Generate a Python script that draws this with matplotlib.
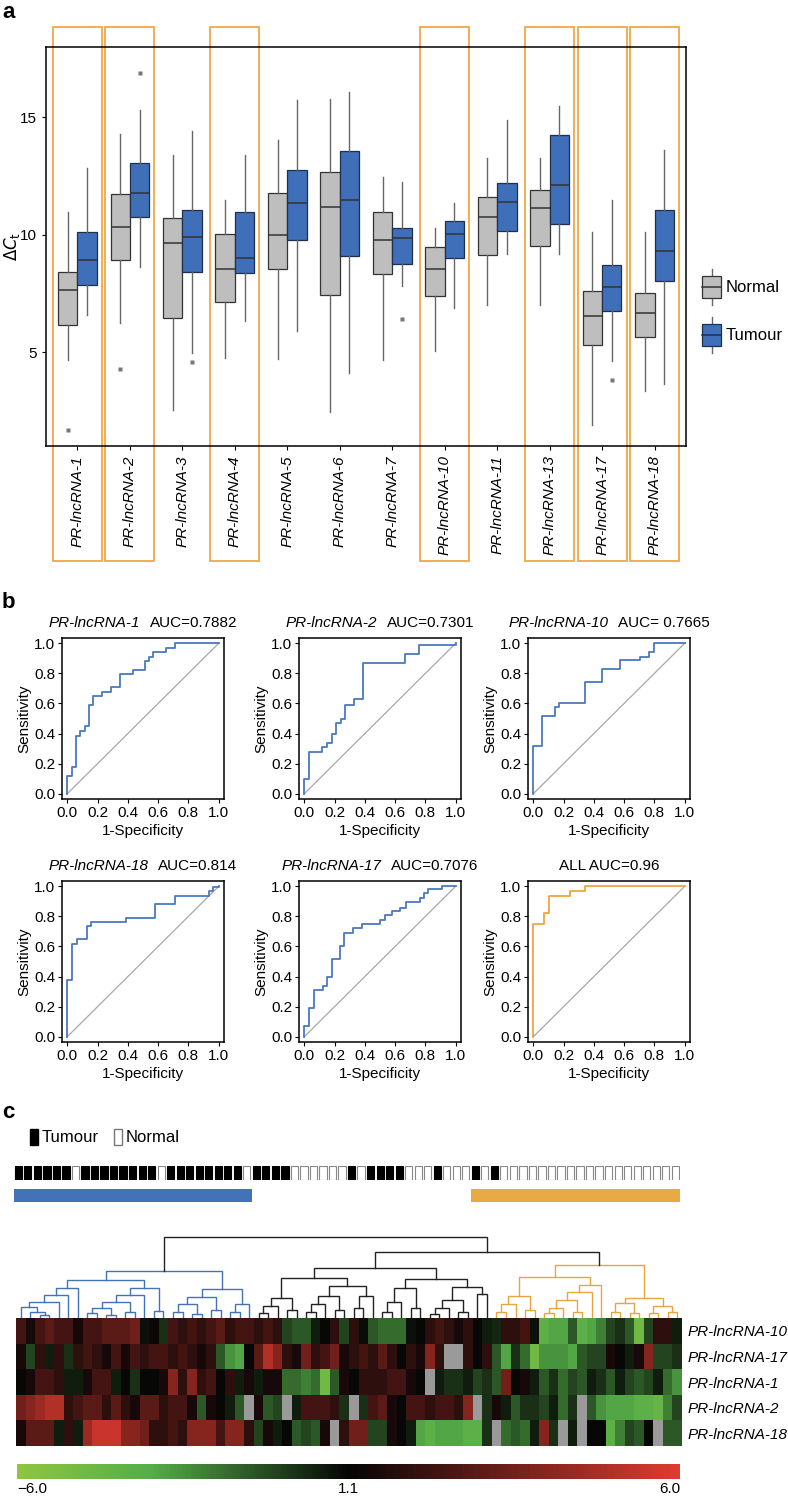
import numpy as np
import matplotlib
matplotlib.use('Agg')
import matplotlib.pyplot as plt
import matplotlib.transforms as mtransforms
from matplotlib.patches import Rectangle
from matplotlib.lines import Line2D
from matplotlib.legend_handler import HandlerBase
from matplotlib.colors import LinearSegmentedColormap, TwoSlopeNorm

plt.rcParams['font.family'] = ['Liberation Sans', 'DejaVu Sans']

# ---------------- panel a data ----------------
genes = ['PR-lncRNA-1', 'PR-lncRNA-2', 'PR-lncRNA-3', 'PR-lncRNA-4', 'PR-lncRNA-5', 'PR-lncRNA-6',
         'PR-lncRNA-7', 'PR-lncRNA-10', 'PR-lncRNA-11', 'PR-lncRNA-13', 'PR-lncRNA-17', 'PR-lncRNA-18']
highlighted = ['PR-lncRNA-1', 'PR-lncRNA-2', 'PR-lncRNA-4', 'PR-lncRNA-10', 'PR-lncRNA-13',
               'PR-lncRNA-17', 'PR-lncRNA-18']

normal_lo = [4.68, 6.26, 2.55, 4.77, 4.71, 2.43, 4.68, 5.06, 7.0, 7.0, 1.91, 3.36]
normal_q1 = [6.17, 8.92, 6.47, 7.13, 8.53, 7.44, 8.32, 7.40, 9.15, 9.53, 5.32, 5.66]
normal_med = [7.66, 10.34, 9.66, 8.53, 9.97, 11.17, 9.79, 8.53, 10.77, 11.15, 6.55, 6.68]
normal_q3 = [8.43, 11.74, 10.72, 10.03, 11.76, 12.67, 10.98, 9.49, 11.62, 11.91, 7.62, 7.53]
normal_hi = [10.98, 14.3, 13.4, 11.47, 14.03, 15.77, 12.45, 10.3, 13.28, 13.28, 10.13, 10.13]
normal_out = [[1.7], [4.3], [], [], [], [], [], [], [], [], [], []]

tumour_lo = [6.6, 8.64, 4.98, 6.34, 5.88, 4.13, 7.8, 6.9, 9.19, 9.19, 4.64, 3.66]
tumour_q1 = [7.87, 10.77, 8.4, 8.37, 9.77, 9.08, 8.77, 9.02, 10.17, 10.47, 6.77, 8.04]
tumour_med = [8.92, 11.77, 9.89, 9.0, 11.36, 11.47, 9.87, 10.04, 11.4, 12.13, 7.79, 9.32]
tumour_q3 = [10.13, 13.06, 11.06, 10.96, 12.74, 13.56, 10.3, 10.6, 12.2, 14.26, 8.72, 11.06]
tumour_hi = [12.85, 15.3, 14.4, 13.4, 15.73, 16.1, 12.26, 11.36, 14.89, 15.49, 11.47, 13.62]
tumour_out = [[], [16.9], [4.6], [], [], [], [6.43], [], [], [], [3.83], []]

# ---------------- panel b data ----------------
roc_titles = ['PR-lncRNA-1', 'PR-lncRNA-2', 'PR-lncRNA-10', 'PR-lncRNA-18', 'PR-lncRNA-17', 'ALL']
roc_auc = ['AUC=0.7882', 'AUC=0.7301', 'AUC= 0.7665', 'AUC=0.814', 'AUC=0.7076', 'AUC=0.96']
roc1_fpr = [0, 0, 0.029, 0.057, 0.081, 0.115, 0.143, 0.17, 0.227, 0.286, 0.346, 0.432, 0.513, 0.54,
            0.568, 0.654, 0.711, 1.0]
roc1_tpr = [0, 0.119, 0.178, 0.383, 0.414, 0.447, 0.593, 0.65, 0.678, 0.707, 0.795, 0.824, 0.883,
            0.912, 0.943, 0.971, 1.0, 1.0]
roc2_fpr = [0, 0, 0.033, 0.12, 0.15, 0.18, 0.21, 0.24, 0.27, 0.33, 0.385, 0.667, 0.755, 1.0]
roc2_tpr = [0, 0.095, 0.28, 0.31, 0.34, 0.40, 0.47, 0.50, 0.59, 0.63, 0.87, 0.93, 0.99, 1.0]
roc3_fpr = [0, 0, 0.059, 0.143, 0.171, 0.34, 0.455, 0.571, 0.708, 0.765, 0.796, 1.0]
roc3_tpr = [0, 0.316, 0.514, 0.574, 0.60, 0.743, 0.826, 0.886, 0.912, 0.943, 1.0, 1.0]
roc4_fpr = [0, 0, 0.033, 0.066, 0.13, 0.159, 0.39, 0.581, 0.709, 0.936, 0.965, 1.0]
roc4_tpr = [0, 0.38, 0.617, 0.648, 0.733, 0.762, 0.791, 0.879, 0.938, 0.969, 0.998, 1.0]
roc5_fpr = [0, 0, 0.029, 0.062, 0.121, 0.15, 0.18, 0.236, 0.264, 0.322, 0.379, 0.498, 0.533, 0.58,
            0.63, 0.67, 0.765, 0.79, 0.82, 0.91, 1.0]
roc5_tpr = [0, 0.073, 0.189, 0.308, 0.339, 0.396, 0.515, 0.604, 0.689, 0.72, 0.749, 0.778, 0.806,
            0.835, 0.857, 0.894, 0.925, 0.954, 0.985, 1.0, 1.0]
roc6_fpr = [0, 0, 0.07, 0.104, 0.24, 0.341, 1.0]
roc6_tpr = [0, 0.751, 0.824, 0.932, 0.967, 1.0, 1.0]
roc_fpr = [roc1_fpr, roc2_fpr, roc3_fpr, roc4_fpr, roc5_fpr, roc6_fpr]
roc_tpr = [roc1_tpr, roc2_tpr, roc3_tpr, roc4_tpr, roc5_tpr, roc6_tpr]

# ---------------- panel c data ----------------
# 1 = tumour, 0 = normal, in dendrogram order
sample_type = [1, 1, 1, 1, 1, 1, 0, 1, 1, 1, 1, 1, 1, 1, 1, 0, 1, 1, 1, 1, 1, 1, 1, 1, 0,
               1, 1, 1, 1, 0, 0, 0, 0, 0, 0, 1, 0, 1, 1, 1, 1, 0, 0, 0, 1, 0, 0, 0, 1, 0,
               1, 0, 0, 0, 0, 0, 0, 0, 0, 0, 0, 0, 0, 0, 0, 0, 0, 0, 0, 0]
blue_group = (0, 25)
orange_group = (48, 70)
heat_rows = ['PR-lncRNA-10', 'PR-lncRNA-17', 'PR-lncRNA-1', 'PR-lncRNA-2', 'PR-lncRNA-18']
nan = np.nan
row_10 = [2.5, 1.5, 2.5, 3, 2.5, 2.5, 1.5, 2.5, 2.5, 3, 3, 3, 3.5, 0.8, 1.3, 0, 2.5, 2, 2.5, 2,
          2.5, 3, 2, 2.5, 2.5, 2, 2.5, 2, -0.5, -1, -1, 0.5, 1, 2, -0.5, 2, 0.9, -1, -1.5, -1.5,
          -1.5, 0.8, 1, 2, 2.5, 2, 1.5, 2, 1, 0.5, 0.3, 2, 2, 2.5, 0.8, -3.5, -3, -3, -1, -3.5,
          -3, -2, -0.5, 0, -1, -4.5, -0.5, 2, 2, 0.5]
row_17 = [1.5, -0.5, 2, 0.5, 2, 0, 2, 2.5, 2, 1.5, 2.5, 1.5, 2.5, 2, 2.5, 2.5, 2, 2.5, 2, 1.5,
          2, -1, -2.5, -3, 1, 3, 5, 4, 2, 1.5, 3.5, 2, 2.5, 3.5, 1.5, 2, 2.5, 2, 3, 2, 1, 2, 1.5,
          4, 2, nan, nan, 2, 1, 2, -1, -3, 0, -1.5, -4.5, -2.5, -2.5, -2.5, -3, -1, -0.5, -0.5,
          1.5, 1, 0.5, 1.5, 4, -0.5, -0.5, 0]
row_1 = [1, 1.5, 2.5, 2.5, 2, 0.5, 0.5, 1.5, 2.5, 2.5, 0.5, 1, 0, 1, 1, 1.5, 4, 2, 4, 2, 2.5, 1,
         2, 0.5, 1.5, 0.5, 1.5, 1.5, -1.5, -1.5, -2, -1.5, -4.5, -1, 1.5, 1, 2, 2, 2, 2.5, 2.5,
         1.5, 1, nan, 0.5, 0, 0, 0.5, -0.5, 0, -1, 3.5, 1, 1.5, 0.5, -1, 0, -1.5, -0.5, -1, 0.5,
         0, -1, 0.5, -0.5, -1, -0.5, 0.5, -1.5, -2.5]
row_2 = [3.5, 4, 4.5, 5, 5, 2, 2.5, 3, 3, 2, 3, 2, 1.5, 3, 3, 2, 2.5, 2.5, 1.5, -1, 1.5, 1, 0.5,
         -1, nan, 1.5, -1, -0.5, nan, 0.5, 2.5, 2.5, 2.5, 2, 0, nan, 0, 2.5, 3, 1.5, 1, 2.5, 2.5,
         2, 2.5, 2.5, 2, 4, nan, 0, 1.5, 0.5, -1, 0, 0, -0.5, 0.5, -1.5, 0, nan, -1, -2.5, -3, -3,
         -3, -3.5, -3.5, -4, -2, -0.5]
row_18 = [1.5, 3, 3, 3, 0.5, 2, 0.5, 4.5, 5.5, 5.5, 5.5, 4, 4, 3.5, 2, 2, 2.5, 2, 4, 4, 4, 2.5,
          4, 4, 2, -0.5, 1.5, 0.5, 1, -1, -0.5, -1, 1.5, nan, 2, 3.5, 3.5, -0.5, -0.5, 1.5, 1,
          0.5, -3, -3.5, -3, -3, -3, -3.5, -3.5, 0, nan, -1.5, -1, -1.5, 0.5, 4, 0, nan, 0.5, nan,
          1, 1, -3.5, -2, -0.5, -1, 1, nan, -1, -1]

# dendrogram: [height, left, right], leaves are column indices
blue_tree = [0.58,
             [0.47,
              [0.37, [0.28, [0.2, [0.13, 0, [0.08, 1, [0.04, 2, 3]]], 4], 5], 6],
              [0.37, [0.28, [0.2, [0.12, [0.06, 7, 8], [0.04, 9, 10]], [0.08, 11, 12]], 13],
               [0.09, 14, 15]]],
             [0.36, [0.26, [0.17, [0.07, 16, 17], [0.05, 18, 19]], [0.1, 20, 21]],
              [0.17, [0.08, 22, 23], 24]]]
black_tree = [0.62,
              [0.50,
               [0.25, [0.15, [0.06, 25, 26], 27], [0.1, 28, 29]],
               [0.39, [0.27, [0.17, [0.08, 30, 31], 32], [0.1, 33, 34]],
                [0.27, [0.12, 35, 36], 37]]],
              [0.48,
               [0.37, [0.2, [0.08, 38, 39], 40], [0.12, 41, 42]],
               [0.38, [0.22, [0.12, [0.05, 43, 44], 45], [0.08, 46, 47]], [0.3, 48, 49]]]]
orange_tree = [0.65,
               [0.51,
                [0.27, [0.17, [0.08, 50, 51], 52], [0.1, 53, 54]],
                [0.41, [0.32, [0.22, [0.12, [0.06, 55, 56], 57], [0.08, 58, 59]], 60], 61]],
               [0.25, [0.18, [0.08, 62, 63], [0.06, 64, 65]],
                [0.15, [0.06, 66, 67], [0.08, 68, 69]]]]
right_tree = [0.81, black_tree, orange_tree]
full_tree = [1.0, blue_tree, right_tree]

W, H = 788, 1499
fig = plt.figure(figsize=(W / 100, H / 100), dpi=100)


def px_axes(left, top, right, bottom):
    return fig.add_axes([left / W, 1 - bottom / H, (right - left) / W, (bottom - top) / H])


# ================= panel a =================
ax = px_axes(46, 47, 686, 446)
pos = np.arange(len(genes))


def make_stats(lo, q1, med, q3, hi, out):
    return [dict(whislo=a, q1=b, med=c, q3=d, whishi=e, fliers=f)
            for a, b, c, d, e, f in zip(lo, q1, med, q3, hi, out)]


common = dict(widths=0.37, patch_artist=True, showcaps=False,
              medianprops=dict(color='#333333', lw=1.1),
              whiskerprops=dict(color='#666666', lw=1.0),
              flierprops=dict(marker='s', markersize=2.2, markerfacecolor='#777777',
                              markeredgecolor='none'))
bn = ax.bxp(make_stats(normal_lo, normal_q1, normal_med, normal_q3, normal_hi, normal_out),
            positions=pos - 0.185,
            boxprops=dict(facecolor='#BEBEBE', edgecolor='#333333', lw=0.9), **common)
bt = ax.bxp(make_stats(tumour_lo, tumour_q1, tumour_med, tumour_q3, tumour_hi, tumour_out),
            positions=pos + 0.185,
            boxprops=dict(facecolor='#3E6FB8', edgecolor='#1F2F4F', lw=0.9), **common)
ax.set_xlim(-0.6, 11.6)
ax.set_ylim(1, 18)
ax.set_yticks([5, 10, 15])
ax.set_xticks(pos)
ax.set_xticklabels(genes, rotation=90, style='italic', fontsize=11)
ax.tick_params(axis='y', labelsize=11, length=3)
ax.tick_params(axis='x', length=3)
for s in ax.spines.values():
    s.set_linewidth(1.1)
ax.set_ylabel(r'$\Delta C_{\mathrm{t}}$', fontsize=12)
ax.yaxis.set_label_coords(-0.038, 0.5)

trans = mtransforms.blended_transform_factory(ax.transData, ax.transAxes)
for g in highlighted:
    i = genes.index(g)
    ax.add_patch(Rectangle((i - 0.467, -0.288), 0.934, 1.338, fill=False, ec='#F2A744',
                           lw=1.3, transform=trans, clip_on=False))


class BoxHandler(HandlerBase):
    def create_artists(self, legend, orig_handle, xdescent, ydescent, width, height, fontsize, trans):
        x0, y0 = -xdescent, -ydescent
        fc = orig_handle.get_facecolor()
        ec = orig_handle.get_edgecolor()
        cx = x0 + width / 2
        box = Rectangle((x0, y0 + height * 0.18), width, height * 0.64, fc=fc, ec=ec, lw=0.9,
                        transform=trans)
        w1 = Line2D([cx, cx], [y0, y0 + height * 0.18], color='#666666', lw=1.0, transform=trans)
        w2 = Line2D([cx, cx], [y0 + height * 0.82, y0 + height], color='#666666', lw=1.0,
                    transform=trans)
        med = Line2D([x0, x0 + width], [y0 + height / 2] * 2, color=ec, lw=1.1, transform=trans)
        return [w1, w2, box, med]


hn = Rectangle((0, 0), 1, 1, fc='#BEBEBE', ec='#333333')
ht = Rectangle((0, 0), 1, 1, fc='#3E6FB8', ec='#1F2F4F')
fig.legend([hn, ht], ['Normal', 'Tumour'], handler_map={Rectangle: BoxHandler()},
           loc='center left', bbox_to_anchor=(694 / W, 1 - 311 / H), frameon=False,
           fontsize=12, handlelength=1.1, handleheight=2.9, labelspacing=0.75,
           handletextpad=0.3, borderpad=0)

# ================= panel b =================
col_left = [62, 299, 528]
row_top = [638, 881]
for k in range(6):
    r, c = divmod(k, 3)
    l, t = col_left[c], row_top[r]
    bx = px_axes(l, t, l + 162, t + 161)
    color = '#F0A540' if roc_titles[k] == 'ALL' else '#4A78BE'
    bx.plot([0, 1], [0, 1], color='#A8A8A8', lw=0.9)
    bx.step(roc_fpr[k], roc_tpr[k], where='post', color=color, lw=1.3)
    bx.set_xlim(-0.035, 1.035)
    bx.set_ylim(-0.035, 1.035)
    ticks = [0, 0.2, 0.4, 0.6, 0.8, 1.0]
    bx.set_xticks(ticks)
    bx.set_yticks(ticks)
    bx.set_xticklabels(['%.1f' % v for v in ticks])
    bx.set_yticklabels(['%.1f' % v for v in ticks])
    bx.tick_params(labelsize=11, length=3, pad=2)
    for s in bx.spines.values():
        s.set_linewidth(1.1)
    bx.set_xlabel('1-Specificity', fontsize=11, labelpad=3)
    bx.set_ylabel('Sensitivity', fontsize=11, labelpad=2)
    # mixed-style title
    ty = 1 - (t - 11) / H
    cx = (l + 81) / W
    if roc_titles[k] == 'ALL':
        fig.text(cx, ty, 'ALL ' + roc_auc[k], ha='center', va='baseline', fontsize=11)
    else:
        t1 = fig.text(0, ty, roc_titles[k], style='italic', ha='left', va='baseline', fontsize=11)
        t2 = fig.text(0, ty, roc_auc[k], ha='left', va='baseline', fontsize=11)
        rend = fig.canvas.get_renderer()
        w1 = t1.get_window_extent(rend).width / W
        w2 = t2.get_window_extent(rend).width / W
        gap = 9 / W
        x0 = cx - (w1 + gap + w2) / 2
        t1.set_x(x0)
        t2.set_x(x0 + w1 + gap)

# ================= panel c =================
fig.legend([Rectangle((0, 0), 1, 1, fc='black', ec='black'),
            Rectangle((0, 0), 1, 1, fc='white', ec='#777777')], ['Tumour', 'Normal'],
           loc='center left', bbox_to_anchor=(22 / W, 1 - 1137 / H), ncol=2, frameon=False,
           fontsize=12, handlelength=0.45, handleheight=1.1, handletextpad=0.25,
           columnspacing=0.9, borderpad=0)

n = len(sample_type)
sx = px_axes(13.6, 1166, 680, 1180)
xs = np.arange(n) + 0.5
st = np.array(sample_type)
sx.bar(xs, np.ones(n), width=0.76, color=np.where(st == 1, 'black', 'white'),
       edgecolor=np.where(st == 1, 'black', '#888888'), lw=0.8)
sx.set_xlim(0, n)
sx.set_ylim(0, 1)
sx.axis('off')

gx = px_axes(13.6, 1189, 680, 1202)
gx.barh(0.5, blue_group[1] - blue_group[0], left=blue_group[0], height=1, color='#4472B8')
gx.barh(0.5, orange_group[1] - orange_group[0], left=orange_group[0], height=1, color='#E9AA45')
gx.set_xlim(0, n)
gx.set_ylim(0, 1)
gx.axis('off')

# dendrogram
dx = px_axes(16, 1237, 682, 1318)
dx.set_xlim(0, n)
dx.set_ylim(0, 1.0)
dx.axis('off')


def draw_tree(node, color):
    if not isinstance(node, list):
        return node + 0.5, 0.0
    h, left, right = node
    lc, rc = color, color
    if node is full_tree:
        lc, rc = '#4472B8', '#222222'
    if node is right_tree:
        lc, rc = '#222222', '#E9A440'
    xl, hl = draw_tree(left, lc)
    xr, hr = draw_tree(right, rc)
    dx.plot([xl, xl, xr, xr], [hl, h, h, hr], color=color, lw=1.0, clip_on=False,
            solid_joinstyle='miter')
    return (xl + xr) / 2, h


draw_tree(full_tree, '#222222')

# heatmap
hx = px_axes(16, 1318, 682, 1446)
cmap = LinearSegmentedColormap.from_list('gkr', [(0, '#8DC63F'), (0.2, '#55AD48'),
                                                 (0.5, '#050505'), (1, '#DF3B30')])
cmap.set_bad('#9A9A9A')
norm = TwoSlopeNorm(vmin=-6, vcenter=1.1, vmax=6)
data = np.ma.masked_invalid(np.array([row_10, row_17, row_1, row_2, row_18], dtype=float))
mesh = hx.pcolormesh(np.arange(n + 1), np.arange(6), data, cmap=cmap, norm=norm)
hx.set_xlim(0, n)
hx.set_ylim(5, 0)
hx.set_xticks([])
hx.yaxis.tick_right()
hx.set_yticks(np.arange(5) + 0.5)
hx.set_yticklabels(heat_rows, style='italic', fontsize=11)
hx.tick_params(axis='y', length=0, pad=4)
for s in hx.spines.values():
    s.set_visible(False)

cx_ = px_axes(17, 1464, 680, 1479)
cb = fig.colorbar(mesh, cax=cx_, orientation='horizontal', ticks=[-6, 1.1, 6])
cb.ax.set_xticklabels(['\u22126.0', '1.1', '6.0'])
cb.ax.tick_params(length=0, labelsize=11, pad=2)
labs = cb.ax.get_xticklabels()
labs[0].set_ha('left')
labs[-1].set_ha('right')
cb.outline.set_visible(False)

# panel letters
for letter, y in [('a', 12), ('b', 602), ('c', 1112)]:
    fig.text(2 / W, 1 - y / H, letter, fontsize=16, fontweight='bold', va='center', ha='left')

fig.savefig('out.png', dpi=100)
